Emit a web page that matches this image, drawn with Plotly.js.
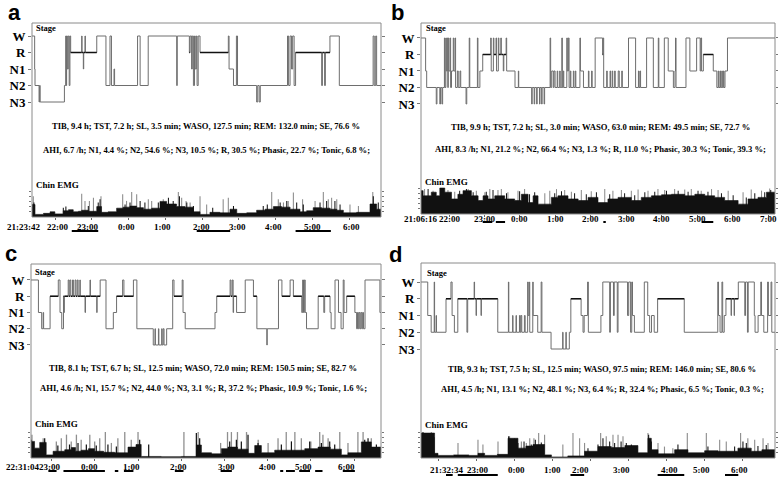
<!DOCTYPE html>
<html><head><meta charset="utf-8">
<script src="https://cdn.plot.ly/plotly-3.0.1.min.js"></script>
<style>html,body{margin:0;padding:0;background:#fff}#chart{width:778px;height:479px}</style>
</head><body><div id="chart"></div>
<script>
// ---------------- DATA ----------------
// Hypnograms: clock time (decimal hours, >24 = next day) and stage from that time on
const hypA_t = [21.368,21.44,21.45,21.56,21.575,21.59,22.25,22.285,22.30,22.31,
 22.33,22.355,22.38,22.40,22.42,22.72,22.73,22.765,22.775,22.81,
 22.82,23.13,23.38,23.49,23.53,23.60,23.615,24.24,24.31,24.53,
 25.305,25.32,25.65,25.67,25.71,25.73,25.76,25.79,25.81,25.84,
 25.86,25.89,25.94,26.71,26.73,26.85,26.93,26.96,27.48,27.51,
 27.55,27.58,28.32,28.35,28.39,28.43,28.46,28.50,28.54,29.25,
 29.27,29.33,29.35,29.475,29.73,30.65,30.68,30.72,30.745];
const hypA_s = ['W','N1','N2','N3','N2','N3','N2','W','N2','W',
 'N1','W','N2','W','R','W','R','N1','R','W',
 'R','W','N2','W','N2','N1','N2','W','N2','W',
 'N2','W','R','W','N1','W','N2','W','N1','W',
 'N2','W','R','W','N1','N2','W','N2','N3','N2',
 'N3','N2','W','N2','W','N1','W','N2','R','N2',
 'R','N2','R','W','N2','W','N2','W','N2'];

const hypB_t = [21.21,21.34,21.37,21.64,21.66,21.74,21.76,21.80,21.82,21.87,
 21.885,21.91,21.925,21.95,21.965,21.98,21.995,22.03,22.045,22.07,
 22.12,22.135,22.17,22.185,22.235,22.26,22.31,22.33,22.48,22.50,
 22.57,22.585,22.80,22.815,22.87,22.95,23.175,23.19,23.25,23.265,
 23.325,23.34,23.39,23.405,23.46,23.475,23.53,23.545,23.61,23.625,
 23.86,23.955,23.965,24.33,24.345,24.40,24.415,24.47,24.485,24.55,
 24.565,24.61,24.625,24.68,24.695,24.85,24.865,24.895,24.94,24.96,
 24.99,25.05,25.065,25.12,25.135,25.18,25.195,25.22,25.235,25.32,
 25.335,25.365,25.385,25.42,25.435,25.505,25.52,25.56,25.575,25.69,
 25.705,25.79,25.93,25.945,26.02,26.035,26.12,26.33,26.345,26.36,
 26.445,26.46,26.54,26.555,26.60,26.615,26.67,26.685,26.77,26.80,
 26.87,26.885,27.06,27.26,27.34,27.355,27.385,27.40,27.57,27.76,
 27.90,27.915,28.07,28.18,28.325,28.37,28.385,28.40,28.68,28.79,
 28.98,29.08,29.10,29.12,29.17,29.45,29.55,29.59,29.605,29.64,
 29.655,29.69,29.705,29.735,29.75,29.78,29.85];
const hypB_s = ['W','N1','N2','N3','N2','N3','N2','N3','N2','W',
 'N2','W','N1','W','N2','W','N1','W','N2','N1',
 'W','N1','W','N2','N1','N2','N1','N2','N3','N2',
 'W','N2','W','N2','N1','R','W','N1','W','R',
 'W','N1','W','R','W','R','N1','R','W','N1',
 'N2','N1','N2','N3','N2','N3','N2','N3','N2','N3',
 'N2','N3','N2','N3','N2','W','N2','N1','N2','N1',
 'N2','N1','N2','N1','N2','W','N2','N1','N2','W',
 'N1','W','N2','N1','N2','N1','N2','N1','N2','W',
 'N1','N2','N1','N2','N1','N2','W','R','W','N2',
 'N1','N2','N1','N2','N1','N2','N1','N2','N1','N2',
 'N1','N2','W','N2','N1','N2','N1','N2','W','N2',
 'W','N2','W','N1','N2','N1','W','N2','W','N1',
 'W','N1','W','N1','R','N1','N2','N1','N2','N1',
 'N2','N1','N2','N1','N2','N1','W'];

const hypC_t = [22.518,22.69,22.765,22.80,22.81,22.96,23.15,23.19,23.23,23.27,
 23.28,23.29,23.38,23.40,23.42,23.44,23.48,23.50,23.54,23.56,
 23.59,23.61,23.65,23.66,23.77,23.78,23.885,23.895,24.04,24.05,
 24.12,24.255,24.425,24.50,24.64,24.67,24.89,24.97,25.35,25.39,
 25.40,25.47,25.48,25.545,25.555,25.58,25.60,25.66,25.80,25.83,
 26.02,26.04,26.09,26.78,26.82,27.13,27.15,27.18,27.20,27.21,
 27.28,27.48,27.67,27.75,27.98,27.99,28.25,28.33,28.52,28.595,
 28.79,28.81,28.83,28.85,28.87,28.90,29.17,29.30,29.32,29.445,
 29.47,29.56,29.64,29.70,29.75,29.77,29.83,30.02,30.06,30.08,
 30.10,30.12,30.14,30.16,30.18,30.20,30.22,30.255,30.60];
const hypC_s = ['W','N1','N2','N1','N2','R','W','N1','N2','R',
 'N1','R','W','R','W','R','W','R','W','R',
 'W','R','W','R','N1','R','W','R','N1','R',
 'W','N2','N1','R','W','R','W','N2','N3','N2',
 'N3','N2','N3','N2','N3','N2','N3','N2','W','R',
 'W','N1','N2','N1','R','W','R','W','N1','R',
 'N1','W','R','N2','N3','N2','W','R','W','R',
 'N1','W','N1','W','N1','N2','R','N1','R','N1',
 'N2','W','N1','N2','W','N1','R','N1','N2','N1',
 'N2','N1','N2','N1','N2','N1','N2','W','N1'];

const hypD_t = [21.543,21.72,21.81,21.89,21.90,21.94,21.95,22.20,22.33,22.36,
 22.42,22.51,22.75,22.77,22.94,22.95,22.99,23.00,23.12,23.13,
 23.56,23.84,23.85,23.95,23.96,24.04,24.05,24.13,24.15,24.17,
 24.19,24.26,24.28,24.345,24.36,24.39,24.40,24.48,24.49,24.61,
 24.70,24.72,24.96,25.265,25.275,25.35,25.36,25.44,25.48,25.75,
 25.80,25.83,25.92,25.94,26.27,26.32,26.50,26.52,26.60,26.62,
 26.70,26.72,26.97,27.00,27.05,27.08,27.10,27.15,27.41,27.50,
 27.55,27.60,27.67,27.76,28.46,29.34,29.36,29.40,29.45,29.47,
 29.51,29.555,29.69,29.70,29.77,29.78,29.88,30.05,30.07,30.12,
 30.14,30.30,30.32,30.40,30.47,30.49,30.55,30.65,30.67,30.74,
 30.76];
const hypD_s = ['W','N1','N2','W','N2','N1','N2','R','W','N1',
 'N2','R','N2','R','W','R','N1','R','N1','R',
 'N2','W','N2','N1','N2','N1','N2','N1','N2','N1',
 'N2','N1','N2','W','N1','W','N2','W','N1','N2',
 'W','N2','N3','N2','N3','N2','N3','N2','R','N1',
 'N2','N1','W','N2','N1','W','N2','W','N1','W',
 'N2','W','N1','W','N2','W','N1','N2','W','N1',
 'N2','N1','N2','R','N2','W','N1','N2','W','N2',
 'N1','R','N1','R','N1','R','W','N1','W','N2',
 'W','N1','N2','N1','W','N1','N2','W','N1','W',
 'N2'];

// Chin EMG: background level (step), tall grey spikes, dark spikes (arbitrary amplitude units)
const emgA_t = [21.368,21.45,21.68,21.86,21.99,22.22,22.36,22.49,22.63,22.72,22.90,23.13,23.26,23.44,23.67,23.85,24.035,24.215,24.40,24.625,24.85,25.03,25.30,25.53,25.76,25.94,26.21,26.48,26.755,26.94,27.21,27.48,27.71,27.935,28.16,28.39,28.66,28.84,29.02,29.25,29.48,29.66,29.84,30.20,30.565,30.746];
const emgA_v = [2.4,0.5,0.7,1.0,0.6,1.2,1.4,1.0,1.1,1.3,1.1,2.0,0.9,1.0,1.7,1.9,2.1,1.8,1.5,1.7,3.0,2.5,2.0,1.9,1.0,0.5,0.9,0.8,1.5,0.7,0.8,1.3,1.5,2.0,1.9,1.5,1.0,1.2,1.8,1.7,1.5,1.3,0.8,0.9,2.5,1.5];
const spkA_t = [21.404,22.72,22.81,22.93,23.04,23.245,23.835,23.94,24.08,24.216,24.533,24.624,24.94,25.35,25.44,25.56,25.67,25.94,26.12,26.57,26.71,27.89,28.07,28.21,28.34,28.48,28.73,29.07,29.295,29.43,29.52,29.66,30.02,30.25,30.64];
const spkA_v = [4.0,4.5,3.1,3.1,3.7,4.0,4.4,3.1,4.8,4.4,3.4,3.1,3.4,4.8,3.7,3.1,2.8,4.0,2.4,3.4,3.7,4.8,3.4,2.8,3.1,4.7,3.4,3.1,4.8,3.4,3.7,3.4,2.4,2.1,4.8];
const blkA_t = [21.42,22.22,22.29,22.90,23.17,23.22,23.90,24.035,24.31,24.44,24.805,25.08,25.21,25.38,25.58,25.76,26.285,26.85,27.66,27.77,28.12,28.30,28.57,28.75,29.205,29.385,29.61,29.75,30.655,30.79];
const blkA_v = [2.8,1.8,2.0,2.1,2.8,3.4,2.4,2.8,3.1,2.8,2.8,3.7,3.1,4.0,2.8,2.1,1.8,2.1,2.1,2.4,2.8,3.1,2.8,2.4,2.8,3.1,3.1,2.4,4.0,2.8];

const emgB_t = [21.21,21.27,21.50,21.64,21.74,21.88,22.07,22.25,22.395,22.63,22.82,22.96,23.10,23.29,23.57,23.85,24.04,24.23,24.37,24.51,24.885,25.07,25.355,25.64,25.92,26.20,26.48,26.765,27.14,27.42,27.705,27.99,28.27,28.645,28.93,29.21,29.49,29.77,30.15,30.43,30.71,30.95];
const emgB_v = [4.5,3.5,4.2,3.5,5.0,4.2,2.9,3.8,4.5,3.5,2.6,3.5,2.9,3.5,2.9,2.6,3.8,2.2,3.5,1.9,3.2,3.5,2.9,2.6,3.2,2.2,2.9,3.2,2.6,3.2,3.5,3.7,3.8,3.5,3.8,3.5,3.2,2.6,1.9,2.9,3.2,4.2];
const spkB_t = [21.31,21.55,21.97,22.16,22.54,22.77,23.01,23.15,23.38,23.475,23.66,23.945,24.13,24.70,24.84,25.03,25.26,25.45,25.73,26.01,26.39,26.62,26.86,27.14,27.33,27.61,27.89,28.08,28.36,28.645,28.83,29.11,29.40,29.585,29.87,30.29,30.52,30.81,31.04];
const spkB_v = [4.8,4.5,4.6,4.3,4.8,4.5,4.2,4.8,4.6,4.8,4.2,4.5,4.8,4.0,4.5,4.8,4.6,4.3,4.6,4.4,4.8,4.5,4.6,4.5,4.7,4.5,4.8,4.6,4.8,4.7,4.8,4.5,4.8,4.6,4.5,4.2,4.7,4.5,4.9];
const blkB_t = [21.41,21.78,22.30,22.49,22.68,23.05,23.24,23.62,23.99,24.27,24.415,24.98,25.17,25.54,25.87,26.155,26.53,26.95,27.235,27.52,27.80,28.13,28.46,28.74,29.02,29.30,29.68,30.01,30.38,30.62,30.90,31.07];
const blkB_v = [4.8,5.0,4.5,4.8,4.2,4.3,4.6,4.0,4.4,3.8,4.2,4.0,4.4,4.0,3.8,4.2,3.8,4.0,3.6,4.2,4.3,4.5,4.5,4.3,4.5,4.3,4.0,3.6,3.2,4.0,4.2,4.6];

const emgC_t = [22.518,22.60,22.72,22.87,23.03,23.30,23.45,23.55,23.68,23.85,23.99,24.20,24.456,24.765,24.95,25.07,25.537,26.0,26.35,26.465,26.70,26.93,27.08,27.30,27.545,27.70,27.854,28.163,28.47,28.86,29.167,29.45,29.707,29.86,30.17,30.40];
const emgC_v = [3.2,1.9,3.0,0.6,1.3,1.6,2.0,1.3,1.5,1.8,1.3,1.1,1.0,2.1,2.6,0.3,0.25,0.3,2.5,1.0,0.8,1.8,2.1,1.7,0.9,2.4,1.0,1.5,1.5,1.8,2.1,1.7,0.6,1.0,3.1,2.1];
const spkC_t = [22.54,22.80,23.105,23.22,23.34,23.45,23.57,23.68,23.88,23.993,24.11,24.24,24.38,24.53,24.69,24.84,24.997,26.06,26.39,26.91,27.07,27.16,27.30,27.51,27.78,28.01,28.24,28.43,28.63,28.78,29.00,29.205,29.28,29.40,29.67,29.86,30.09,30.21,30.40];
const spkC_v = [4.5,3.8,3.2,3.8,4.5,3.2,4.5,3.5,4.5,3.2,3.8,5.0,2.9,3.8,5.0,3.5,5.0,5.0,5.0,2.9,5.0,5.0,5.0,5.0,3.5,2.9,3.8,5.0,5.0,3.8,3.2,5.0,4.5,3.8,5.0,2.9,5.0,5.0,3.8];
const blkC_t = [22.52,22.835,23.14,23.41,23.607,23.80,24.03,24.30,24.495,25.035,25.244,26.348,26.425,27.12,27.275,27.39,27.545,27.777,28.317,28.55,28.973,29.244,29.437,29.553,30.248,30.325,30.518];
const blkC_v = [3.5,3.8,2.4,2.6,2.9,2.6,2.4,2.6,2.2,3.5,2.6,4.8,3.8,3.2,3.5,3.2,4.5,2.9,2.6,3.2,3.2,2.9,3.2,2.6,3.5,3.8,2.6];

const emgD_t = [21.543,21.90,21.99,22.40,22.80,23.04,23.215,23.55,23.83,24.09,24.30,24.485,24.79,24.97,25.40,25.84,26.193,26.543,26.90,27.243,27.506,27.594,27.77,28.207,28.557,28.995,29.345,29.87,30.22,30.50];
const emgD_v = [4.8,0.9,0.5,0.6,0.5,0.9,0.5,0.7,3.8,1.9,2.3,2.6,0.6,0.2,0.4,1.3,2.2,2.0,2.4,1.0,3.8,1.6,0.8,1.6,1.0,1.4,1.3,1.9,1.3,1.6];
const spkD_t = [21.815,22.515,23.04,23.17,23.566,23.87,24.00,24.18,24.31,24.40,24.51,24.634,24.79,25.27,25.536,25.71,25.84,26.263,26.41,26.587,26.72,26.85,27.506,27.77,27.94,28.16,28.54,29.04,29.39,29.564,29.94,30.13,30.31,30.53,30.66];
const spkD_v = [5.0,2.9,3.5,2.6,3.2,4.2,3.8,3.2,2.9,3.8,3.8,4.8,4.5,2.6,4.8,3.8,2.9,4.8,4.2,4.5,4.5,4.2,4.8,2.9,2.2,1.9,4.8,4.8,3.5,3.2,4.8,3.8,3.5,3.8,2.9];
const blkD_t = [21.595,21.727,21.885,23.846,23.96,24.09,24.25,24.44,24.547,24.704,25.93,26.193,26.324,26.50,26.63,26.80,26.937,27.07,27.524,27.594,28.294,29.082,29.783,30.002,30.09,30.396,30.614];
const blkD_v = [5.0,4.8,4.0,4.2,3.5,2.9,3.2,2.6,3.5,3.0,1.9,2.6,3.8,3.2,2.9,3.2,2.9,2.6,4.5,3.2,2.6,2.2,2.2,3.2,2.9,2.3,2.5];

// underlined time spans below the time axis
const undA = [[22.45,23.17],[25.85,26.76],[28.54,29.50]];
const undB = [[22.95,23.22],[23.32,23.58],[26.35,26.42],[29.12,29.45]];
const undC = [[22.92,23.11],[23.27,24.23],[24.46,24.54],[24.67,24.89],[25.85,26.05],[26.91,27.17],[28.29,28.36],[28.425,28.63],[28.73,28.98],[29.10,29.27],[29.74,30.02]];
const undD = [[22.20,22.375],[22.51,23.56],[25.47,25.83],[27.76,28.46],[29.53,29.88]];

// time labels
const tickA_pos = [22.05,22.89,23.95,24.93,25.97,26.946,27.95,29.01,30.05];
const tickA_txt = ['22:00','23:00','0:00','1:00','2:00','3:00','4:00','5:00','6:00'];
const tickB_pos = [22,23,24,25,26,27,28,29,30,31];
const tickB_txt = ['22:00','23:00','0:00','1:00','2:00','3:00','4:00','5:00','6:00','7:00'];
const tickC_pos = [22.94,23.87,24.835,25.93,27.05,28.0,28.82,29.82];
const tickC_txt = ['23:00','0:00','1:00','2:00','3:00','4:00','5:00','6:00'];
const tickD_pos = [23.02,24.04,25.01,25.74,26.80,28.07,28.90,29.91];
const tickD_txt = ['23:00','0:00','1:00','2:00','3:00','4:00','5:00','6:00'];
const startLabels = ['21:23:42','21:06:16','22:31:04','21:32:34'];

const stageNames = ['N3','N2','N1','R','W'];
const statsA = ['TIB, 9.4 h; TST, 7.2 h; SL, 3.5 min; WASO, 127.5 min; REM: 132.0 min; SE, 76.6 %','AHI, 6.7 /h; N1, 4.4 %; N2, 54.6 %; N3, 10.5 %; R, 30.5 %; Phasic, 22.7 %; Tonic, 6.8 %;'];
const statsB = ['TIB, 9.9 h; TST, 7.2 h; SL, 3.0 min; WASO, 63.0 min; REM: 49.5 min; SE, 72.7 %','AHI, 8.3 /h; N1, 21.2 %; N2, 66.4 %; N3, 1.3 %; R, 11.0 %; Phasic, 30.3 %; Tonic, 39.3 %;'];
const statsC = ['TIB, 8.1 h; TST, 6.7 h; SL, 12.5 min; WASO, 72.0 min; REM: 150.5 min; SE, 82.7 %','AHI, 4.6 /h; N1, 15.7 %; N2, 44.0 %; N3, 3.1 %; R, 37.2 %; Phasic, 10.9 %; Tonic, 1.6 %;'];
const statsD = ['TIB, 9.3 h; TST, 7.5 h; SL, 12.5 min; WASO, 97.5 min; REM: 146.0 min; SE, 80.6 %','AHI, 4.5 /h; N1, 13.1 %; N2, 48.1 %; N3, 6.4 %; R, 32.4 %; Phasic, 6.5 %; Tonic, 0.3 %;'];
const panelLetters = ['a','b','c','d'];

// ---------------- LAYOUT ----------------
const W = 778, H = 479;
const fx = x => x / W, fy = y => 1 - y / H;
const SERIF = 'Liberation Serif';
const panels = [
 {t:hypA_t,s:hypA_s,et:emgA_t,ev:emgA_v,st:spkA_t,sv:spkA_v,bt:blkA_t,bv:blkA_v,und:undA,tp:tickA_pos,tt:tickA_txt,stats:statsA,
  box:[32,23,381,217],wY:36,n3Y:102,range:[21.368,30.864],tickY:226.5,undY:231,startX:23,letter:[14,12],stageXY:[34,28],emgXY:[34,185],statsX:206,statsY:[126,150]},
 {t:hypB_t,s:hypB_s,et:emgB_t,ev:emgB_v,st:spkB_t,sv:spkB_v,bt:blkB_t,bv:blkB_v,und:undB,tp:tickB_pos,tt:tickB_txt,stats:statsB,
  box:[421,23,775,214],wY:38,n3Y:104,range:[21.21,31.19],tickY:218.5,undY:222,startX:420,letter:[398,12],stageXY:[424,28],emgXY:[423,182],statsX:600,statsY:[127,149]},
 {t:hypC_t,s:hypC_s,et:emgC_t,ev:emgC_v,st:spkC_t,sv:spkC_v,bt:blkC_t,bv:blkC_v,und:undC,tp:tickC_pos,tt:tickC_txt,stats:statsC,
  box:[31,264,381,458],wY:280,n3Y:345,range:[22.518,30.625],tickY:466.5,undY:471,startX:22,letter:[11,253],stageXY:[33,272],emgXY:[33,424],statsX:203,statsY:[368,388]},
 {t:hypD_t,s:hypD_s,et:emgD_t,ev:emgD_v,st:spkD_t,sv:spkD_v,bt:blkD_t,bv:blkD_v,und:undD,tp:tickD_pos,tt:tickD_txt,stats:statsD,
  box:[421,263,775,458],wY:282,n3Y:349,range:[21.543,30.844],tickY:470,undY:475,startX:446,letter:[395,254],stageXY:[425,273],emgXY:[423,425],statsX:602,statsY:[369,389]}
];
const STAGE = {N3:0,N2:1,N1:2,R:3,W:4};

const data = [], annotations = [], shapes = [];
const layout = {width:W,height:H,margin:{l:0,r:0,t:0,b:0},paper_bgcolor:'#fff',plot_bgcolor:'rgba(0,0,0,0)',
  showlegend:false,hovermode:false,barmode:'overlay',font:{family:SERIF,color:'#000'}};

panels.forEach((P,i) => {
  const xid = i ? 'x'+(i+1) : 'x';
  const yh = 2*i+1, ye = 2*i+2;
  const yhid = yh===1 ? 'y' : 'y'+yh, yeid = 'y'+ye;
  const xkey = i ? 'xaxis'+(i+1) : 'xaxis';
  const yhkey = yh===1 ? 'yaxis' : 'yaxis'+yh, yekey = 'yaxis'+ye;
  const [L,T,R,B] = P.box;
  const end = P.range[1];
  const n = Math.min(P.t.length, P.s.length);
  const tx = P.t.slice(0,n), sy = P.s.slice(0,n).map(v => STAGE[v]);

  data.push({type:'scatter',mode:'lines',x:tx.concat([end]),y:sy.concat([sy[n-1]]),xaxis:xid,yaxis:yhid,
    line:{shape:'hv',color:'#6e6e6e',width:1},hoverinfo:'skip'});
  const rx = [], ry = [];
  for (let k=0;k<n;k++) if (P.s[k]==='R') { rx.push(tx[k], k+1<n ? tx[k+1] : end, null); ry.push(3,3,null); }
  data.push({type:'scatter',mode:'lines',x:rx,y:ry,xaxis:xid,yaxis:yhid,line:{color:'#111',width:1.4},connectgaps:false,hoverinfo:'skip'});

  data.push({type:'bar',x:P.st,y:P.sv,width:0.03,xaxis:xid,yaxis:yeid,marker:{color:'#8f8f8f',line:{width:0}},hoverinfo:'skip'});
  data.push({type:'bar',x:P.bt,y:P.bv,width:0.028,xaxis:xid,yaxis:yeid,marker:{color:'#111',line:{width:0}},hoverinfo:'skip'});
  data.push({type:'scatter',mode:'lines',x:P.et.concat([end]),y:P.ev.concat([P.ev[P.ev.length-1]]),xaxis:xid,yaxis:yeid,
    line:{shape:'hv',color:'#111',width:0.6},fill:'tozeroy',fillcolor:'#111',hoverinfo:'skip'});

  const u = (P.n3Y - P.wY)/4;
  layout[xkey] = {domain:[fx(L),fx(R)],range:P.range,anchor:yeid,showgrid:false,zeroline:false,showline:false,
    ticks:'outside',ticklen:2,tickcolor:'#666',tick0:0,dtick:1,showticklabels:false};
  layout[yhkey] = {domain:[fy(P.n3Y+0.45*u),fy(P.wY-0.45*u)],range:[-0.45,4.45],anchor:xid,
    tickvals:[0,1,2,3,4],ticktext:stageNames,tickfont:{family:SERIF,size:13,color:'#000',weight:'bold'},
    ticks:'outside',ticklen:3,tickcolor:'#777',mirror:'ticks',showgrid:false,zeroline:false,showline:false};
  layout[yekey] = {domain:[fy(B),fy(B-27)],range:[0,5.2],anchor:xid,tickvals:[1,2,3,4,5],showticklabels:false,
    ticks:'outside',ticklen:2,tickcolor:'#777',mirror:'ticks',showgrid:false,zeroline:false,showline:false};

  shapes.push({type:'rect',xref:'paper',yref:'paper',x0:fx(L),x1:fx(R),y0:fy(B),y1:fy(T),line:{color:'#8a8a8a',width:1},layer:'above'});
  P.und.forEach(([a,b]) => shapes.push({type:'line',xref:xid,yref:'paper',x0:a,x1:b,y0:fy(P.undY),y1:fy(P.undY),line:{color:'#000',width:2}}));

  const tf = {family:SERIF,size:9,color:'#000'};
  P.tp.forEach((v,k) => annotations.push({xref:xid,yref:'paper',x:v,y:fy(P.tickY),text:'<b>'+P.tt[k]+'</b>',showarrow:false,font:tf,xanchor:'center',yanchor:'middle'}));
  annotations.push({xref:'paper',yref:'paper',x:fx(P.startX),y:fy(P.tickY),text:'<b>'+startLabels[i]+'</b>',showarrow:false,font:tf,xanchor:'center',yanchor:'middle'});
  annotations.push({xref:'paper',yref:'paper',x:fx(P.letter[0]),y:fy(P.letter[1]),text:'<b>'+panelLetters[i]+'</b>',showarrow:false,
    font:{family:'Liberation Sans',size:22,color:'#000'},xanchor:'center',yanchor:'middle'});
  annotations.push({xref:'paper',yref:'paper',x:fx(P.stageXY[0]),y:fy(P.stageXY[1]),text:'<b>Stage</b>',showarrow:false,
    font:{family:SERIF,size:8.5,color:'#000'},xanchor:'left',yanchor:'middle'});
  annotations.push({xref:'paper',yref:'paper',x:fx(P.emgXY[0]),y:fy(P.emgXY[1]),text:'<b>Chin EMG</b>',showarrow:false,
    font:{family:SERIF,size:9,color:'#000'},xanchor:'left',yanchor:'middle'});
  P.stats.forEach((txt,k) => annotations.push({xref:'paper',yref:'paper',x:fx(P.statsX),y:fy(P.statsY[k]),text:'<b>'+txt+'</b>',showarrow:false,
    font:{family:SERIF,size:8.6,color:'#000'},xanchor:'center',yanchor:'middle'}));
});
layout.annotations = annotations;
layout.shapes = shapes;

Plotly.newPlot('chart', data, layout, {displayModeBar:false,staticPlot:true});
</script></body></html>
